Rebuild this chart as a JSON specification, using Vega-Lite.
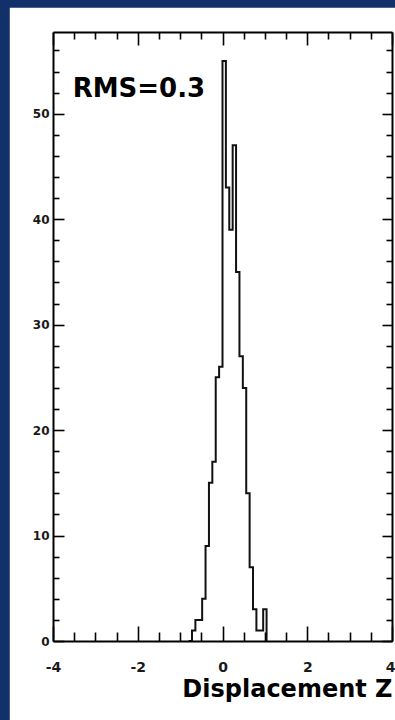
{
  "$schema": "https://vega.github.io/schema/vega-lite/v6.json",
  "width": 339,
  "height": 609,
  "autosize": "none",
  "padding": {"left": 53, "top": 32, "right": 3, "bottom": 79},
  "background": "#12306a",
  "config": {
    "view": {"stroke": null},
    "axis": {
      "zindex": 1,
      "grid": false,
      "domainColor": "#000",
      "domainWidth": 2,
      "tickColor": "#000",
      "tickWidth": 1.6,
      "labelFont": "DejaVu Sans",
      "labelFontWeight": "bold",
      "labelColor": "#1a1a1a",
      "titleFont": "DejaVu Sans",
      "titleFontWeight": "bold",
      "titleColor": "#000"
    }
  },
  "datasets": {
    "hist": [
      {"x": -0.80, "n": 0},
      {"x": -0.72, "n": 1},
      {"x": -0.64, "n": 2},
      {"x": -0.56, "n": 2},
      {"x": -0.48, "n": 4},
      {"x": -0.40, "n": 9},
      {"x": -0.32, "n": 15},
      {"x": -0.24, "n": 17},
      {"x": -0.16, "n": 25},
      {"x": -0.08, "n": 26},
      {"x": 0.00, "n": 55},
      {"x": 0.08, "n": 43},
      {"x": 0.16, "n": 39},
      {"x": 0.24, "n": 47},
      {"x": 0.32, "n": 35},
      {"x": 0.40, "n": 27},
      {"x": 0.48, "n": 24},
      {"x": 0.56, "n": 14},
      {"x": 0.64, "n": 7},
      {"x": 0.72, "n": 3},
      {"x": 0.80, "n": 1},
      {"x": 0.88, "n": 1},
      {"x": 0.96, "n": 3},
      {"x": 1.04, "n": 0}
    ]
  },
  "data": {"name": "hist"},
  "resolve": {"axis": {"x": "independent", "y": "independent"}},
  "layer": [
    {
      "data": {"values": [{}]},
      "mark": {"type": "rect", "color": "#ffffff", "clip": false},
      "encoding": {
        "x": {"datum": -5.02, "type": "quantitative", "scale": {"domain": [-4, 4], "nice": false, "zero": false}, "axis": null},
        "x2": {"datum": 4.5},
        "y": {"datum": -9, "type": "quantitative", "scale": {"domain": [0, 57.75], "nice": false, "zero": false}, "axis": null},
        "y2": {"datum": 60.05}
      }
    },
    {
      "mark": {"type": "line", "interpolate": "step-after", "color": "#111111", "strokeWidth": 2, "clip": true},
      "encoding": {
        "x": {"field": "x", "type": "quantitative", "scale": {"domain": [-4, 4], "nice": false, "zero": false},
          "axis": {"orient": "bottom", "zindex": 2, "values": [-4, -2, 0, 2, 4], "ticks": false, "domain": true, "labelFontSize": 14, "labelPadding": 19, "labelFlush": false,
            "labelExpr": "datum.value < 0 ? '-' + abs(datum.value) : '' + datum.value",
            "labelAlign": {"condition": {"test": "datum.value == 4", "value": "right"}, "value": "center"},
            "labelOffset": {"condition": {"test": "datum.value == 4", "value": 3}, "value": 0},
            "title": "Displacement Z", "titleFontSize": 24, "titleAnchor": "end", "titlePadding": 3}},
        "y": {"field": "n", "type": "quantitative", "scale": {"domain": [0, 57.75], "nice": false, "zero": false},
          "axis": {"orient": "left", "zindex": 2, "values": [0, 10, 20, 30, 40, 50], "ticks": false, "domain": true, "labelFontSize": 12, "labelPadding": 4, "labelFlush": false, "title": null}}
      }
    },
    {
      "mark": {"type": "point", "opacity": 0},
      "encoding": {
        "x": {"field": "x", "type": "quantitative", "scale": {"domain": [-4, 4], "nice": false, "zero": false},
          "axis": {"orient": "bottom", "zindex": 2, "values": [-4, -2, 0, 2, 4], "labels": false, "domain": false, "tickSize": -15, "title": null}},
        "y": {"field": "n", "type": "quantitative", "scale": {"domain": [0, 57.75], "nice": false, "zero": false},
          "axis": {"orient": "left", "zindex": 2, "values": [0, 10, 20, 30, 40, 50], "labels": false, "domain": false, "tickSize": -11, "title": null}}
      }
    },
    {
      "mark": {"type": "point", "opacity": 0},
      "encoding": {
        "x": {"field": "x", "type": "quantitative", "scale": {"domain": [-4, 4], "nice": false, "zero": false},
          "axis": {"orient": "bottom", "zindex": 2, "values": [-3.5, -3, -2.5, -1.5, -1, -0.5, 0.5, 1, 1.5, 2.5, 3, 3.5], "labels": false, "domain": false, "tickSize": -9, "title": null}},
        "y": {"field": "n", "type": "quantitative", "scale": {"domain": [0, 57.75], "nice": false, "zero": false},
          "axis": {"orient": "left", "zindex": 2, "values": [2, 4, 6, 8, 12, 14, 16, 18, 22, 24, 26, 28, 32, 34, 36, 38, 42, 44, 46, 48, 52, 54, 56], "labels": false, "domain": false, "tickSize": -6, "title": null}}
      }
    },
    {
      "mark": {"type": "point", "opacity": 0},
      "encoding": {
        "x": {"field": "x", "type": "quantitative", "scale": {"domain": [-4, 4], "nice": false, "zero": false},
          "axis": {"orient": "top", "zindex": 2, "values": [-4, -2, 0, 2, 4], "labels": false, "domain": true, "tickSize": -13, "title": null}},
        "y": {"field": "n", "type": "quantitative", "scale": {"domain": [0, 57.75], "nice": false, "zero": false},
          "axis": {"orient": "right", "zindex": 2, "values": [0, 10, 20, 30, 40, 50], "labels": false, "domain": true, "tickSize": -10, "title": null}}
      }
    },
    {
      "mark": {"type": "point", "opacity": 0},
      "encoding": {
        "x": {"field": "x", "type": "quantitative", "scale": {"domain": [-4, 4], "nice": false, "zero": false},
          "axis": {"orient": "top", "zindex": 2, "values": [-3.5, -3, -2.5, -1.5, -1, -0.5, 0.5, 1, 1.5, 2.5, 3, 3.5], "labels": false, "domain": false, "tickSize": -7, "title": null}},
        "y": {"field": "n", "type": "quantitative", "scale": {"domain": [0, 57.75], "nice": false, "zero": false},
          "axis": {"orient": "right", "zindex": 2, "values": [2, 4, 6, 8, 12, 14, 16, 18, 22, 24, 26, 28, 32, 34, 36, 38, 42, 44, 46, 48, 52, 54, 56], "labels": false, "domain": false, "tickSize": -6, "title": null}}
      }
    },
    {
      "data": {"values": [{"label": "RMS=0.3"}]},
      "mark": {"type": "text", "align": "left", "baseline": "alphabetic", "font": "DejaVu Sans", "fontWeight": "bold", "fontSize": 26, "color": "#000000"},
      "encoding": {
        "x": {"datum": -3.535, "type": "quantitative", "scale": {"domain": [-4, 4], "nice": false, "zero": false}, "axis": null},
        "y": {"datum": 51.6, "type": "quantitative", "scale": {"domain": [0, 57.75], "nice": false, "zero": false}, "axis": null},
        "text": {"field": "label"}
      }
    }
  ]
}
